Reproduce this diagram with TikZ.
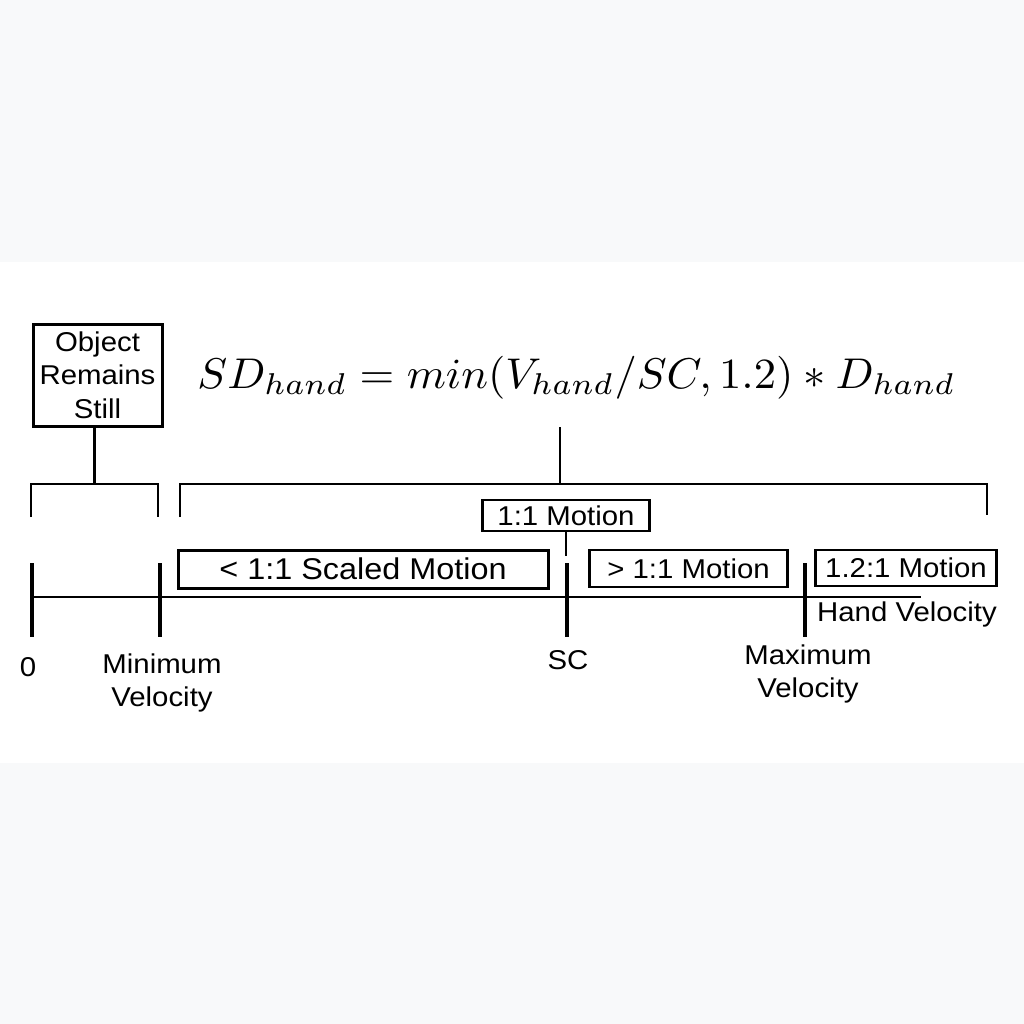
\documentclass[tikz,border=0pt]{standalone}
\usepackage{graphicx}
\usepackage{fontspec}
\setmainfont{Liberation Sans}[FakeStretch=1.08]
\definecolor{pagegray}{HTML}{F8F9FA}
\tikzset{
  lbl/.style={font=\fontsize{13.6}{16.7}\selectfont, align=center, inner sep=0pt},
  mbox/.style={lbl, draw, line width=0.6pt},
  tick/.style={line width=2pt},
  brace/.style={line width=1.3pt}
}
\begin{document}
\begin{tikzpicture}
  [x=0.5pt,y=-0.5pt]
  \fill[pagegray] (0,0) rectangle (1024,1024);
  \fill[white] (0,262) rectangle (1024,763);
  \useasboundingbox (0,0) rectangle (1024,1024);

  % top: box and formula
  \node (obj) [lbl, draw, line width=1.5pt, minimum width=64.5pt, minimum height=51pt] at (97.5,375) {Object\\Remains\\Still};
  \node (eq) [anchor=base, inner sep=0pt] at (576.5,388)
    {\scalebox{2.23}[2.15]{$SD_{hand} = min(V_{hand}/SC, 1.2) * D_{hand}$}};
  \coordinate (lb) at (94.5,484);
  \coordinate (rb) at (560,484);
  \draw[brace] (lb |- obj.south) -- (lb);
  \draw[brace] (rb |- 0,427) -- (rb);
  \draw[brace] (31,517) -- (31,484) -- (158,484) -- (158,517);
  \draw[brace] (180,517) -- (180,484) -- (987,484) -- (987,515);

  % regions
  \node (one) [mbox, minimum width=83pt, minimum height=15.5pt] at (566,515.5) {1:1 Motion};
  \node (slow) [mbox, line width=1.5pt, font=\fontsize{15}{17}\selectfont, minimum width=185pt, minimum height=19pt] at (363,569) {< 1:1 Scaled Motion};
  \node (fast) [mbox, minimum width=98.5pt, minimum height=18.5pt] at (688.5,568.5) {> 1:1 Motion};
  \node (cap) [mbox, minimum width=90pt, minimum height=18pt] at (906,568) {1.2:1 Motion};
  \foreach \b in {one,fast,cap}
    \draw[line width=1.5pt] (\b.north west) -- (\b.south west) (\b.north east) -- (\b.south east);
  \coordinate (sc) at (566,556);
  \draw[line width=0.8pt] (one.south) -- (sc);

  % axis
  \coordinate (ax0) at (33,597);
  \coordinate (ax1) at (921,597);
  \draw[line width=1pt] (ax0) -- (ax1);
  \foreach \x in {32,160,567,805}
    \draw[tick] (\x,563) -- (\x,637);

  % labels
  \node (zero) [lbl] at (28,667) {0};
  \node (vmin) [lbl] at (162,683) {Minimum\\Velocity};
  \node (sclbl) [lbl] at (568,660) {SC};
  \node (vmax) [lbl] at (808,674) {Maximum\\Velocity};
  \node (hv) [lbl] at (907,614) {Hand Velocity};
\end{tikzpicture}
\end{document}
